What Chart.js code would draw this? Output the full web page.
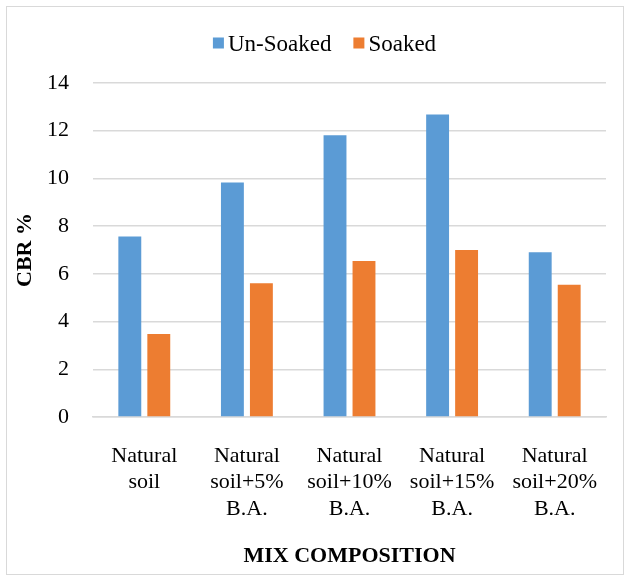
<!DOCTYPE html>
<html>
<head>
<meta charset="utf-8">
<script src="https://cdn.jsdelivr.net/npm/chart.js@4"></script>
<style>
  html, body { margin: 0; padding: 0; background: #ffffff; }
  #wrap { position: relative; width: 630px; height: 579px; }
  #frame { position: absolute; left: 6px; top: 6px; width: 618px; height: 569px; border: 1px solid #d9d9d9; box-sizing: border-box; }
  #c { position: absolute; left: 0; top: 0; }
</style>
</head>
<body>
<div id="wrap">
  <div id="frame"></div>
  <canvas id="c" width="630" height="579"></canvas>
</div>
<script>
// CBR results for each mix
const categories = [
  ['Natural', 'soil'],
  ['Natural', 'soil+5%', 'B.A.'],
  ['Natural', 'soil+10%', 'B.A.'],
  ['Natural', 'soil+15%', 'B.A.'],
  ['Natural', 'soil+20%', 'B.A.']
];
const unSoaked = [7.57, 9.83, 11.81, 12.68, 6.91];
const soaked = [3.48, 5.61, 6.54, 7.0, 5.54];
const yTicks = [0, 2, 4, 6, 8, 10, 12, 14];

const FONT = "'Liberation Serif', 'Times New Roman', serif";

// Simple legend: square swatch followed by the series name
const squareLegend = {
  id: 'squareLegend',
  afterDraw(chart, args, opts) {
    const ctx = chart.ctx;
    const items = chart.data.datasets;
    ctx.save();
    ctx.font = opts.size + 'px ' + FONT;
    ctx.textBaseline = 'alphabetic';
    const widths = items.map(d => opts.box + opts.gap + ctx.measureText(d.label).width);
    const total = widths.reduce((a, b) => a + b, 0) + opts.spacing * (items.length - 1);
    let x = opts.centerX - total / 2;
    items.forEach((d, i) => {
      ctx.fillStyle = d.backgroundColor;
      ctx.fillRect(x, opts.y - opts.box / 2, opts.box, opts.box);
      ctx.fillStyle = '#000000';
      ctx.fillText(d.label, x + opts.box + opts.gap, opts.y + opts.size * 0.35);
      x += widths[i] + opts.spacing;
    });
    ctx.restore();
  }
};

new Chart(document.getElementById('c'), {
  type: 'bar',
  data: {
    labels: categories,
    datasets: [
      { label: 'Un-Soaked', data: unSoaked, backgroundColor: '#5B9BD5' },
      { label: 'Soaked', data: soaked, backgroundColor: '#ED7D31' }
    ]
  },
  options: {
    responsive: false,
    animation: false,
    events: [],
    layout: { padding: { top: 83, right: 24, bottom: 0, left: 0 } },
    datasets: { bar: { categoryPercentage: 0.565, barPercentage: 0.79 } },
    plugins: {
      legend: { display: false },
      tooltip: { enabled: false },
      squareLegend: { centerX: 324.5, y: 43, box: 11, gap: 4, spacing: 22, size: 23 }
    },
    scales: {
      x: {
        grid: { display: false },
        border: { display: true, color: '#d9d9d9', width: 1.5 },
        ticks: {
          color: '#000000',
          font: { family: FONT, size: 22, lineHeight: 1.2 },
          padding: 18,
          maxRotation: 0,
          autoSkip: false
        },
        title: {
          display: true,
          text: 'MIX COMPOSITION',
          color: '#000000',
          font: { family: FONT, size: 22, weight: 'bold', lineHeight: 1.2 },
          padding: { top: 0, bottom: 9 }
        },
        afterFit(scale) { scale.height = 162; }
      },
      y: {
        min: 0,
        max: 14,
        afterBuildTicks(scale) { scale.ticks = yTicks.map(v => ({ value: v })); },
        grid: { color: '#d9d9d9', lineWidth: 1.5, drawTicks: false },
        border: { display: false },
        ticks: {
          color: '#000000',
          font: { family: FONT, size: 22 },
          padding: 24
        },
        title: {
          display: true,
          text: 'CBR %',
          color: '#000000',
          font: { family: FONT, size: 22, weight: 'bold', lineHeight: 1.2 },
          padding: { top: 12, bottom: 0 }
        },
        afterFit(scale) { scale.width = 93; }
      }
    }
  },
  plugins: [squareLegend]
});
</script>
</body>
</html>
